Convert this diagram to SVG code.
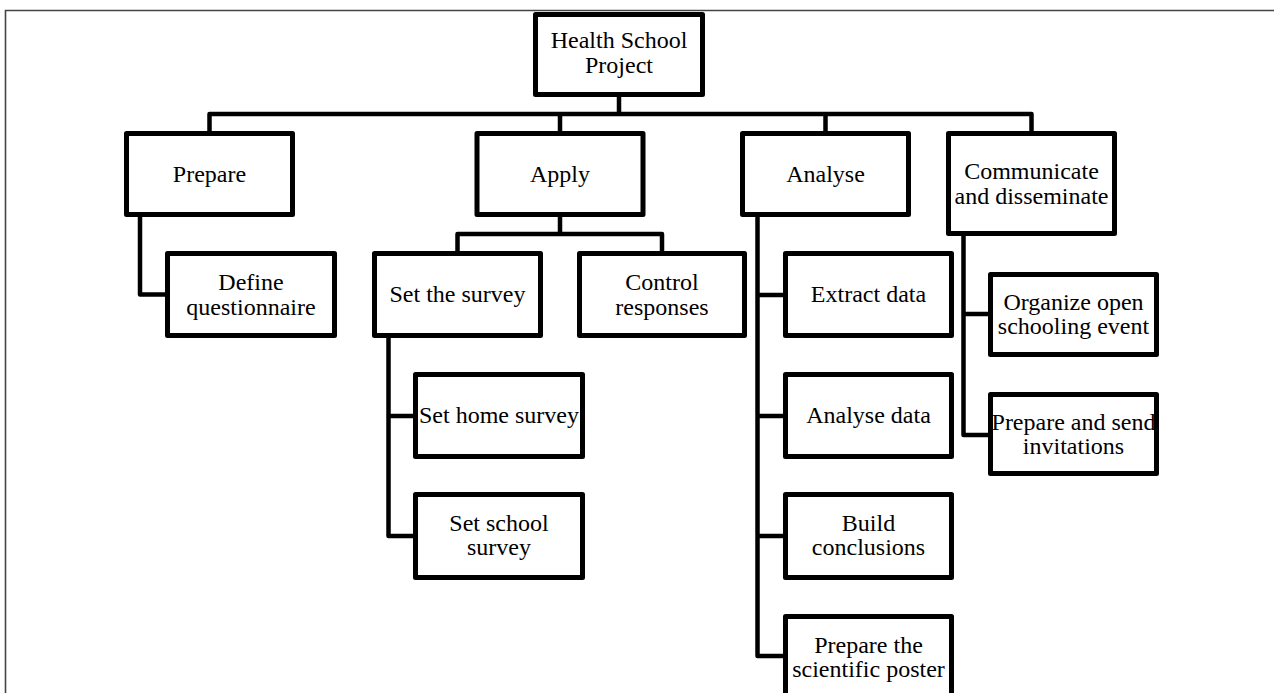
<svg xmlns="http://www.w3.org/2000/svg" width="1274" height="693" viewBox="0 0 1274 693">
  <style>
    .box { fill: #ffffff; stroke: #000000; stroke-width: 5; stroke-linejoin: round; }
    .link { fill: none; stroke: #000000; stroke-width: 4.5; stroke-linejoin: round; }
    .frame { fill: none; stroke: #444444; stroke-width: 1.6; }
    text { font-family: "Liberation Serif", "Times New Roman", serif; font-size: 24px; fill: #000000; text-anchor: middle; }
  </style>

  <rect width="1274" height="693" fill="#ffffff"/>
  <path class="frame" d="M5.5,693 V10.5 H1274"/>

  <!-- tree connectors -->
  <g id="connectors">
    <path class="link" d="M619,97 V114 M209.5,131 V114 H1031.5 V131 M560,114 V131 M825.5,114 V131"/>
    <path class="link" d="M140,217 V294.5 H165"/>
    <path class="link" d="M560,217 V234 M457.5,251 V234 H662 V251"/>
    <path class="link" d="M388.5,338 V536 H413 M388.5,416 H413"/>
    <path class="link" d="M757.5,217 V656 H783 M757.5,295 H783 M757.5,416 H783 M757.5,536 H783"/>
    <path class="link" d="M963.5,236 V435 H988 M963.5,314 H988"/>
  </g>

  <g id="root">
    <rect class="box" x="535.5" y="14.5" width="167" height="80"/>
    <text x="619" y="48">Health School</text>
    <text x="619" y="73">Project</text>
  </g>

  <g id="prepare">
    <rect class="box" x="126.5" y="133.5" width="166" height="81"/>
    <text x="209.5" y="182">Prepare</text>
  </g>
  <g id="apply">
    <rect class="box" x="477" y="133.5" width="166" height="81"/>
    <text x="560" y="182">Apply</text>
  </g>
  <g id="analyse">
    <rect class="box" x="742.5" y="133.5" width="166" height="81"/>
    <text x="825.5" y="182">Analyse</text>
  </g>
  <g id="communicate">
    <rect class="box" x="948.5" y="133.5" width="166" height="100"/>
    <text x="1031.5" y="179">Communicate</text>
    <text x="1031.5" y="203.5">and disseminate</text>
  </g>

  <g id="define-questionnaire">
    <rect class="box" x="167.5" y="253.5" width="167" height="82"/>
    <text x="251" y="290">Define</text>
    <text x="251" y="315">questionnaire</text>
  </g>
  <g id="set-the-survey">
    <rect class="box" x="374.5" y="253.5" width="166" height="82"/>
    <text x="457.5" y="302">Set the survey</text>
  </g>
  <g id="control-responses">
    <rect class="box" x="579.5" y="253.5" width="165" height="82"/>
    <text x="662" y="290">Control</text>
    <text x="662" y="315">responses</text>
  </g>
  <g id="set-home-survey">
    <rect class="box" x="415.5" y="374.5" width="167" height="82"/>
    <text x="499" y="423">Set home survey</text>
  </g>
  <g id="set-school-survey">
    <rect class="box" x="415.5" y="494.5" width="167" height="83"/>
    <text x="499" y="531">Set school</text>
    <text x="499" y="555">survey</text>
  </g>

  <g id="extract-data">
    <rect class="box" x="785.5" y="253.5" width="166" height="82"/>
    <text x="868.5" y="302">Extract data</text>
  </g>
  <g id="analyse-data">
    <rect class="box" x="785.5" y="374.5" width="166" height="82"/>
    <text x="868.5" y="423">Analyse data</text>
  </g>
  <g id="build-conclusions">
    <rect class="box" x="785.5" y="494.5" width="166" height="83"/>
    <text x="868.5" y="531">Build</text>
    <text x="868.5" y="555">conclusions</text>
  </g>
  <g id="scientific-poster">
    <rect class="box" x="785.5" y="616.5" width="166" height="100"/>
    <text x="868.5" y="653">Prepare the</text>
    <text x="868.5" y="677">scientific poster</text>
  </g>

  <g id="open-schooling-event">
    <rect class="box" x="990.5" y="274.5" width="166" height="80"/>
    <text x="1073.5" y="310">Organize open</text>
    <text x="1073.5" y="334">schooling event</text>
  </g>
  <g id="send-invitations">
    <rect class="box" x="990.5" y="394.5" width="166" height="79"/>
    <text x="1073.5" y="430">Prepare and send</text>
    <text x="1073.5" y="454">invitations</text>
  </g>
</svg>
